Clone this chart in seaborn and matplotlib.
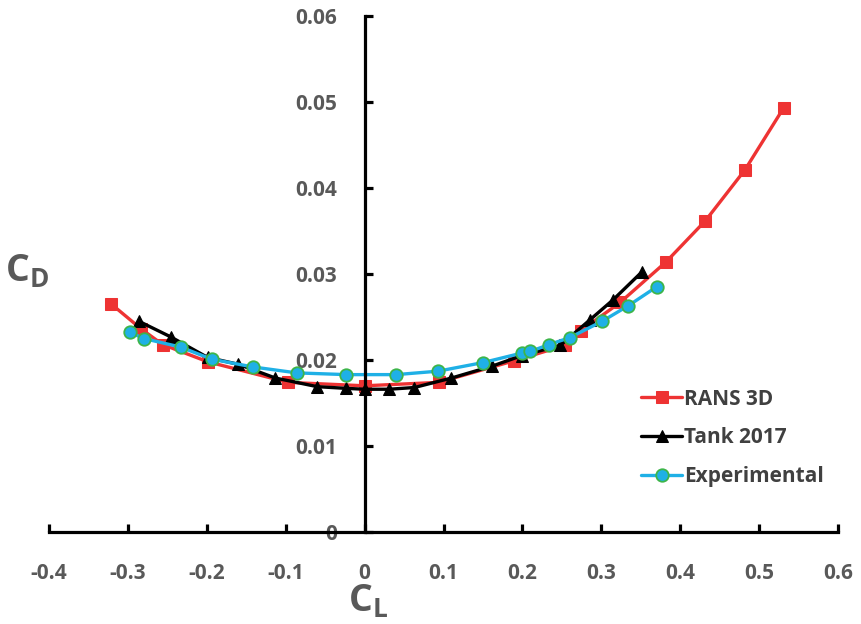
import matplotlib
matplotlib.use("Agg")
import matplotlib.pyplot as plt
import seaborn as sns
import pandas as pd

# ---- data ----
rans_cl = [-0.321, -0.283, -0.256, -0.199, -0.097, 0.0, 0.094, 0.189, 0.254, 0.274, 0.324, 0.382, 0.432, 0.482, 0.531]
rans_cd = [0.0265, 0.0236, 0.0218, 0.0198, 0.0174, 0.0170, 0.0174, 0.0199, 0.0217, 0.0234, 0.0267, 0.0314, 0.0362, 0.0421, 0.0493]

tank_cl = [-0.286, -0.246, -0.199, -0.160, -0.113, -0.060, -0.023, 0.0, 0.031, 0.063, 0.110, 0.162, 0.199, 0.248, 0.286, 0.315, 0.351]
tank_cd = [0.0245, 0.0227, 0.0203, 0.0195, 0.0179, 0.0169, 0.0167, 0.0166, 0.0166, 0.0168, 0.0179, 0.0193, 0.0205, 0.0217, 0.0247, 0.0270, 0.0302]

exp_cl = [-0.297, -0.280, -0.233, -0.194, -0.142, -0.086, -0.023, 0.040, 0.093, 0.150, 0.199, 0.210, 0.234, 0.260, 0.301, 0.334, 0.370]
exp_cd = [0.0232, 0.0225, 0.0215, 0.0201, 0.0192, 0.0185, 0.0183, 0.0183, 0.0187, 0.0197, 0.0208, 0.0210, 0.0218, 0.0226, 0.0245, 0.0263, 0.0285]

x_ticks = [-0.4, -0.3, -0.2, -0.1, 0, 0.1, 0.2, 0.3, 0.4, 0.5, 0.6]
x_labels = ["-0.4", "-0.3", "-0.2", "-0.1", "0", "0.1", "0.2", "0.3", "0.4", "0.5", "0.6"]
y_ticks = [0, 0.01, 0.02, 0.03, 0.04, 0.05, 0.06]
y_labels = ["0", "0.01", "0.02", "0.03", "0.04", "0.05", "0.06"]

sns.set_style("white")
plt.rcParams['font.family'] = ['Open Sans', 'DejaVu Sans']
plt.rcParams['mathtext.fontset'] = 'custom'
plt.rcParams['mathtext.rm'] = 'Open Sans'
plt.rcParams['mathtext.bf'] = 'Open Sans:bold'

fig = plt.figure(figsize=(8.61, 6.24), dpi=100)
ax = fig.add_axes([49/861, (624-532)/624, (838-49)/861, (532-16)/624])

red = '#EE3333'
blue = '#1FB0E6'
green = '#3DB54A'

d1 = pd.DataFrame({'CL': rans_cl, 'CD': rans_cd})
d2 = pd.DataFrame({'CL': tank_cl, 'CD': tank_cd})
d3 = pd.DataFrame({'CL': exp_cl, 'CD': exp_cd})

sns.lineplot(data=d1, x='CL', y='CD', sort=False, ax=ax, color=red, lw=2.4,
             marker='s', markersize=8.5, markeredgecolor=red, markerfacecolor=red,
             label='RANS 3D')
sns.lineplot(data=d2, x='CL', y='CD', sort=False, ax=ax, color='black', lw=2.4,
             marker='^', markersize=9, markeredgecolor='black', markerfacecolor='black',
             label='Tank 2017')
sns.lineplot(data=d3, x='CL', y='CD', sort=False, ax=ax, color=blue, lw=2.4,
             marker='o', markersize=9, markeredgecolor=green, markeredgewidth=1.3,
             markerfacecolor=blue, label='Experimental')

ax.set_xlim(-0.4, 0.6)
ax.set_ylim(0, 0.06)
ax.spines['left'].set_position(('data', 0))
ax.spines['bottom'].set_position(('data', 0))
ax.spines['top'].set_visible(False)
ax.spines['right'].set_visible(False)
for s in ['left', 'bottom']:
    ax.spines[s].set_linewidth(2.3)
    ax.spines[s].set_color('black')

ax.set_xticks(x_ticks)
ax.set_xticklabels(x_labels)
ax.set_yticks(y_ticks)
ax.set_yticklabels(y_labels)
ax.tick_params(axis='both', direction='in', length=6, width=2.3, color='black',
               labelsize=15, labelcolor='#595959', bottom=True, left=True)
ax.tick_params(axis='y', pad=20)
ax.tick_params(axis='x', pad=22)
for lab in ax.get_xticklabels() + ax.get_yticklabels():
    lab.set_fontweight('bold')

ax.set_xlabel('')
ax.set_ylabel('')
fig.text(27/861, 1 - 272/624, r'$\mathbf{C_D}$', fontsize=27, color='#595959',
         ha='center', va='center')
fig.text(368/861, 1 - 602/624, r'$\mathbf{C_L}$', fontsize=27, color='#595959',
         ha='center', va='center')

leg = ax.legend(loc='upper left', bbox_to_anchor=(622/861, 1 - 370/624),
                bbox_transform=fig.transFigure, frameon=False,
                prop={'weight': 'bold', 'size': 15}, handlelength=2.0,
                handletextpad=0.1, labelspacing=0.85)
for t in leg.get_texts():
    t.set_color('#404040')

ax.set_facecolor('white')
fig.savefig('out.png', dpi=100, facecolor='white')
